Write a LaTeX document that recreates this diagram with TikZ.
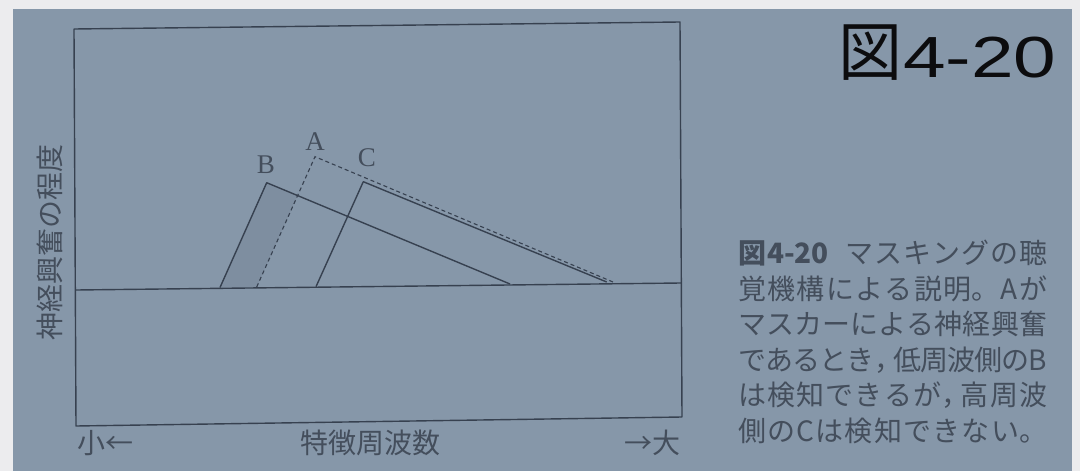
\documentclass[tikz,border=0pt]{standalone}
\usepackage{fontspec}
\newfontfamily\cjk{Noto Sans CJK JP}
\newfontfamily\latinserif{Liberation Serif}
\newfontfamily\latinsans{Liberation Sans}
\usetikzlibrary{calc}
\definecolor{bgpanel}{RGB}{134,151,169}
\definecolor{outerbg}{RGB}{236,236,238}
\definecolor{ink}{RGB}{55,65,80}
\definecolor{txt}{RGB}{68,78,92}
\definecolor{shadefill}{RGB}{126,142,160}
\definecolor{titleink}{RGB}{12,12,14}
\XeTeXlinebreaklocale "ja"
\XeTeXlinebreakskip=0pt plus 4pt minus 2pt
\begin{document}
\begin{tikzpicture}[x=1pt,y=-1pt,
  plotline/.style={draw=ink,line width=1.4pt,line join=round},
  dashline/.style={draw=ink,line width=1.1pt,dash pattern=on 4pt off 3pt},
  letter/.style={font=\latinserif\fontsize{27}{27}\selectfont,text=txt,inner sep=0pt},
  axlabel/.style={font=\cjk\fontsize{28}{28}\selectfont,text=txt,inner sep=0pt},
  capline/.style={font=\cjk\fontsize{28}{28}\selectfont,text=txt,inner sep=0pt,anchor=base west,
    text width=309pt,align=justify,execute at begin node={\parfillskip=0pt\relax}}]
\useasboundingbox (0,0) rectangle (1080,471);
\fill[outerbg] (0,0) rectangle (1080,471);
\fill[bgpanel] (13,9) rectangle (1072,471);

% plot frame
\coordinate (TL) at (74,29);
\coordinate (TR) at (680,22);
\coordinate (BR) at (682,417);
\coordinate (BL) at (76,426);
\draw[plotline] (TL) -- (TR) -- (BR) -- (BL) -- cycle;

% baseline
\coordinate (L0) at (76,290);
\coordinate (L1) at (681,283);

% curves
\coordinate (B0) at (220,287.5);
\coordinate (B1) at (266.7,182.7);
\coordinate (B2) at (510,284);
\coordinate (A0) at (256.7,287);
\coordinate (A1) at (315,156.7);
\coordinate (A2) at (613,282);
\coordinate (C0) at (316,286.7);
\coordinate (C1) at (363.3,181.7);
\coordinate (C2) at (606.7,282);
\coordinate (X) at (intersection of B1--B2 and A0--A1);

\fill[shadefill] (B0) -- (B1) -- (X) -- (A0) -- cycle;
\draw[plotline] (L0) -- (L1);
\draw[plotline] (B0) -- (B1) -- (B2);
\draw[plotline] (C0) -- (C1) -- (C2);
\draw[dashline] (A0) -- (A1) -- (A2);

\node[letter] (la) at (315,142) {A};
\node[letter] (lb) at (266,165) {B};
\node[letter] (lc) at (367,158) {C};

% axis labels
\node[axlabel,rotate=90] (ylab) at (50,242) {神経興奮の程度};
\node[axlabel] (xsmall) at (105,443) {小←};
\node[axlabel] (xlab) at (370,443) {特徴周波数};
\node[axlabel] (xlarge) at (652,443) {→大};

% title
\node[font=\cjk\fontsize{64}{64}\selectfont,text=titleink,inner sep=0pt] (tz) at (870.5,52.5) {図};
\node[font=\latinsans\fontsize{58}{58}\selectfont,text=titleink,inner sep=0pt,anchor=base west] (tn) at (903,77) {\scalebox{1.32}[1]{4-20}};

% caption
\node[capline] (c1) at (738,263.5) {{\bfseries 図4-20}\hspace{0.6em}マスキングの聴};
\node[capline] (c2) at (738,299) {覚機構による説明。Aが};
\node[capline] (c3) at (738,334.5) {マスカーによる神経興奮};
\node[capline] (c4) at (738,370) {であるとき\makebox[0.7em][l]{，}低周波側のB};
\node[capline] (c5) at (738,405.5) {は検知できるが\makebox[0.7em][l]{，}高周波};
\node[capline] (c6) at (738,441) {側のCは検知できない。};
\end{tikzpicture}
\end{document}
